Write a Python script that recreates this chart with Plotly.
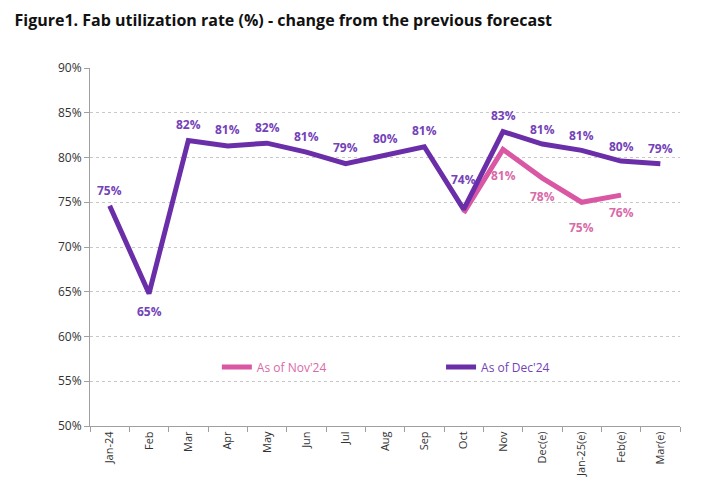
import plotly.graph_objects as go

months = ["Jan-24", "Feb", "Mar", "Apr", "May", "Jun", "Jul", "Aug", "Sep", "Oct", "Nov",
          "Dec(e)", "Jan-25(e)", "Feb(e)", "Mar(e)"]
dec24 = [74.6, 64.8, 81.9, 81.3, 81.6, 80.6, 79.3, 80.3, 81.2, 74.2, 82.9, 81.5, 80.8, 79.6, 79.3]
nov24_months = ["Oct", "Nov", "Dec(e)", "Jan-25(e)", "Feb(e)"]
nov24 = [73.8, 80.9, 77.7, 75.0, 75.8]
dec24_labels = ["75%", "65%", "82%", "81%", "82%", "81%", "79%", "80%", "81%", "74%", "83%", "81%", "81%", "80%", "79%"]
nov24_labels = ["", "81%", "78%", "75%", "76%"]

PURPLE = "#6a2fa8"
PURPLE_TXT = "#7442b8"
PINK = "#d957a3"
PINK_TXT = "#d96aa8"

# label offsets in pixels (styling only)
dec_shift = [15, -18, 16, 16, 16, 16, 16, 16, 16, 30, 16, 15, 15, 15, 15]
nov_shift = [0, -26, -18, -25, -17]

fig = go.Figure()
fig.add_trace(go.Scatter(
    x=nov24_months, y=nov24, mode="lines", name="As of Nov'24",
    line=dict(color=PINK, width=5), legend="legend",
))
fig.add_trace(go.Scatter(
    x=months, y=dec24, mode="lines", name="As of Dec'24",
    line=dict(color=PURPLE, width=5), legend="legend2",
))

for m, v, t, s in zip(nov24_months, nov24, nov24_labels, nov_shift):
    if t:
        fig.add_annotation(x=m, y=v, text="<b>%s</b>" % t, showarrow=False, yshift=s,
                           font=dict(color=PINK_TXT, size=12, family="Open Sans"))
for m, v, t, s in zip(months, dec24, dec24_labels, dec_shift):
    fig.add_annotation(x=m, y=v, text="<b>%s</b>" % t, showarrow=False, yshift=s,
                       font=dict(color=PURPLE_TXT, size=12, family="Open Sans"))

fig.update_layout(
    width=720, height=481,
    margin=dict(l=82, r=48, t=60, b=56),
    paper_bgcolor="white", plot_bgcolor="white",
    title=dict(text="<b>Figure1. Fab utilization rate (%) - change from the previous forecast</b>",
               x=0.009, xanchor="left", y=0.985, yanchor="top",
               font=dict(size=16, color="#111111", family="Open Sans")),
    font=dict(family="Open Sans", color="#404040"),
    showlegend=True,
    legend=dict(x=0.215, y=0.165, xanchor="left", yanchor="middle", itemwidth=30,
                font=dict(size=12, family="Open Sans", color=PINK_TXT), bgcolor="rgba(0,0,0,0)"),
    legend2=dict(x=0.595, y=0.165, xanchor="left", yanchor="middle", itemwidth=30,
                 font=dict(size=12, family="Open Sans", color=PURPLE_TXT), bgcolor="rgba(0,0,0,0)"),
)
fig.update_xaxes(
    type="category", categoryorder="array", categoryarray=months,
    range=[-0.5, 14.5], tickangle=-90, tickfont=dict(size=11, color="#333333"),
    showline=True, linecolor="#a0a0a0", linewidth=1,
    ticks="outside", tickson="boundaries", ticklen=5, tickcolor="#a0a0a0",
    showgrid=False,
)
fig.update_yaxes(
    range=[50, 90], dtick=5, ticksuffix="%", tickfont=dict(size=12, color="#333333"),
    showline=True, linecolor="#a0a0a0", linewidth=1,
    ticks="outside", ticklen=5, tickcolor="#a0a0a0",
    showgrid=True, gridcolor="#c8c8c8", griddash="dot", gridwidth=1, zeroline=False,
)
fig.write_html("out.html")
